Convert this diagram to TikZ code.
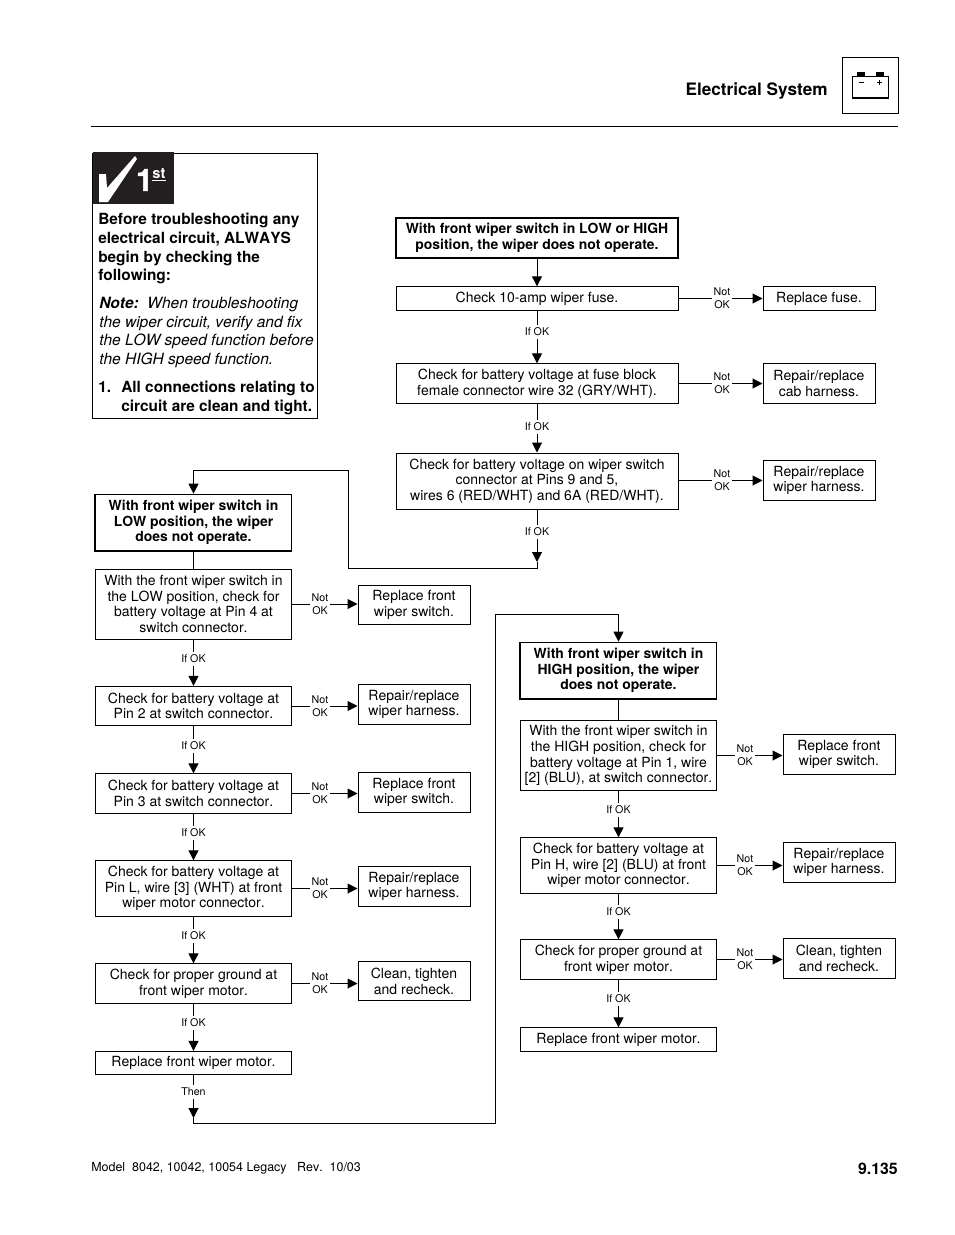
\documentclass[tikz,border=0pt]{standalone}
\usepackage{fontspec}
\setmainfont[Kerning=Off]{TeX Gyre Heros}
\newfontfamily\heavyfont[FakeBold=1.6]{TeX Gyre Heros Bold}
\usetikzlibrary{arrows.meta}
\definecolor{inkdark}{HTML}{231F20}
\tikzset{
    x=0.75pt, y=-0.75pt,
    boxbase/.style={draw, line width=0.75pt, align=center, inner sep=0pt, font=\fontsize{10.5}{11.8}\selectfont},
    chk/.style={boxbase, minimum width=211.5pt},
    lowchk/.style={boxbase, minimum width=147pt},
    fix/.style={boxbase, minimum width=84pt},
    titlebox/.style={boxbase, font=\fontsize{10.45}{11.8}\selectfont\bfseries},
    tag/.style={fill=white, inner xsep=1.5pt, inner ysep=2.2pt, align=center, font=\fontsize{8}{9.5}\selectfont},
    flow/.style={line width=0.75pt, -{Triangle[width=7.5pt,length=7.5pt]}},
    lead/.style={line width=0.75pt},
    panel/.style={anchor=north west, inner sep=0pt, align=left, font=\fontsize{11.55}{14}\selectfont\bfseries},
}
\begin{document}
\begin{tikzpicture}
\useasboundingbox (0,0) rectangle (954,1235);
% header
\node[anchor=east, inner sep=0pt, font=\fontsize{12.87}{14}\selectfont\bfseries] (head) at (828,90.5) {Electrical System};
\node[draw, line width=0.75pt, minimum width=42pt, minimum height=42pt, inner sep=0pt] (icon) at (870,85) {};
\draw[line width=0.75pt] (852,98) rectangle (888,76);
\draw[line width=1.3pt] (852,98) -- (888,98);
\fill (857,72) rectangle (865,76);
\fill (876,72) rectangle (884,76);
\draw[line width=0.6pt] (858.5,82.5) -- (863.5,82.5);
\draw[line width=0.6pt] (876.5,82.5) -- (881.5,82.5) (879,80) -- (879,85);
\draw[line width=0.75pt] (91,126.5) -- (898,126.5);
% check first panel
\draw[line width=0.75pt] (92.5,153.5) rectangle (317.5,418.5);
\fill[inkdark] (92.5,152) rectangle (174,204);
\fill[white] (99,174) -- (106,174) -- (107,188) -- (135,156) -- (137,159) -- (108,202) -- (99,202) -- cycle;
\node[white, inner sep=0pt, font=\fontsize{23}{23}\heavyfont] (one) at (144.5,180) {1};
\node[white, inner sep=0pt, font=\fontsize{11}{11}\selectfont\bfseries] (st) at (159,174) {st};
\draw[white, line width=0.75pt] (152,180.5) -- (166,180.5);
\node[panel] (before) at (98,213) {Before troubleshooting any\\electrical circuit, ALWAYS\\begin by checking the\\following:};
\node[panel, font=\fontsize{11.62}{14}\selectfont\itshape] (note) at (99,297) {{\bfseries Note:}\ \ When troubleshooting\\the wiper circuit, verify and fix\\the LOW speed function before\\the HIGH speed function.};
\node[panel] (itemno) at (98,381) {1.};
\node[panel] (item) at (121,381) {All connections relating to\\circuit are clean and tight.};
% top chart
\node[titlebox, line width=2.2pt, minimum width=211.5pt, minimum height=30pt] (top) at (537,238) {With front wiper switch in LOW or HIGH\\position, the wiper does not operate.};
\node[chk, minimum height=17.5pt] (fuse) at (537,298.5) {Check 10-amp wiper fuse.};
\node[chk, minimum height=29.5pt] (block) at (537,383.5) {Check for battery voltage at fuse block\\female connector wire 32 (GRY/WHT).};
\node[chk, minimum height=42pt] (conn) at (537,481) {Check for battery voltage on wiper switch\\connector at Pins 9 and 5,\\wires 6 (RED/WHT) and 6A (RED/WHT).};
\node[fix, minimum height=17.5pt] (fuserep) at (819,298.5) {Replace fuse.};
\node[fix, minimum height=29.5pt] (cabrep) at (819,383.5) {Repair/replace\\cab harness.};
\node[fix, minimum height=29.5pt] (wirerep) at (819,480.5) {Repair/replace\\wiper harness.};
% low chart
\node[titlebox, minimum width=147pt, minimum height=42.5pt] (low) at (193.5,522.5) {With front wiper switch in\\LOW position, the wiper\\does not operate.};
\node[lowchk, minimum height=52.5pt] (lowa) at (193.5,604) {With the front wiper switch in\\the LOW position, check for\\battery voltage at Pin 4 at\\switch connector.};
\node[lowchk, minimum height=29.5pt] (lowb) at (193.5,706) {Check for battery voltage at\\Pin 2 at switch connector.};
\node[lowchk, minimum height=29.5pt] (lowc) at (193.5,793.5) {Check for battery voltage at\\Pin 3 at switch connector.};
\node[lowchk, minimum height=41.5pt] (lowd) at (193.5,888.5) {Check for battery voltage at\\Pin L, wire [3] (WHT) at front\\wiper motor connector.};
\node[lowchk, minimum height=29.5pt] (lowe) at (193.5,983.5) {Check for proper ground at\\front wiper motor.};
\node[lowchk, minimum height=17.5pt] (lowf) at (193.5,1063) {Replace front wiper motor.};
\node[fix, minimum height=29pt] (lowra) at (414,605) {Replace front\\wiper switch.};
\node[fix, minimum height=29.5pt] (lowrb) at (414,704.5) {Repair/replace\\wiper harness.};
\node[fix, minimum height=29.5pt] (lowrc) at (414,792.5) {Replace front\\wiper switch.};
\node[fix, minimum height=30pt] (lowrd) at (414,886.5) {Repair/replace\\wiper harness.};
\node[fix, minimum height=29.5pt] (lowre) at (414,981) {Clean, tighten\\and recheck.};
% high chart
\node[titlebox, minimum width=147pt, minimum height=42.5pt] (high) at (618.5,670.5) {With front wiper switch in\\HIGH position, the wiper\\does not operate.};
\node[lowchk, minimum height=53pt] (higha) at (618.5,755.5) {With the front wiper switch in\\the HIGH position, check for\\battery voltage at Pin 1, wire\\{[}2] (BLU), at switch connector.};
\node[lowchk, minimum height=41.5pt] (highb) at (618.5,865.5) {Check for battery voltage at\\Pin H, wire [2] (BLU) at front\\wiper motor connector.};
\node[lowchk, minimum height=29.5pt] (highc) at (618.5,959.5) {Check for proper ground at\\front wiper motor.};
\node[lowchk, minimum height=17.5pt] (highd) at (618.5,1039.5) {Replace front wiper motor.};
\node[fix, minimum height=29.5pt] (highra) at (839,754.5) {Replace front\\wiper switch.};
\node[fix, minimum height=29.5pt] (highrb) at (839,862.5) {Repair/replace\\wiper harness.};
\node[fix, minimum height=29.5pt] (highrc) at (839,958.5) {Clean, tighten\\and recheck.};
% heavier left and bottom edges of the two title boxes
\foreach \t in {low,high} {
    \draw[line width=1.4pt] (\t.north west) -- (\t.south west) -- (\t.south east);
}
% down arrows
\draw[flow] (top) -- (fuse);
\foreach \from/\to/\taby in {fuse/block/332, block/conn/427, lowa/lowb/659, lowb/lowc/746, lowc/lowd/833, lowd/lowe/936, lowe/lowf/1023, higha/highb/810, highb/highc/912, highc/highd/999} {
    \draw[flow] (\from) -- (\to);
    \node[tag] (ok\from) at (\from |- 0,\taby) {If OK};
}
\draw[lead] (low) -- (lowa);
\draw[lead] (high) -- (higha);
% side arrows
\foreach \from/\to/\tabx in {lowa/lowra/320, lowb/lowrb/320, lowc/lowrc/320, lowd/lowrd/320, lowe/lowre/320, higha/highra/745, highb/highrb/745, highc/highrc/745, fuse/fuserep/722, block/cabrep/722} {
    \draw[flow] (\from) -- (\from -| \to.west);
    \node[tag, inner ysep=0pt] (no\from) at (\tabx,0 |- \from) {Not\\OK};
}
\draw[flow] (conn.east |- wirerep) -- (wirerep);
\node[tag, inner ysep=0pt] (noconn) at (722,0 |- wirerep) {Not\\OK};
% long returns
\coordinate (tipa) at (537,562);
\coordinate (jointa) at (537,568);
\coordinate (jointb) at (348,568);
\coordinate (jointc) at (348,470);
\coordinate (jointd) at (193.5,470);
\draw[flow] (conn) -- (tipa);
\node[tag] (okconn) at (conn |- 0,532) {If OK};
\draw[lead] (tipa) -- (jointa) -- (jointb) -- (jointc) -- (jointd);
\draw[flow] (jointd) -- (low);
\coordinate (tipb) at (193.5,1118);
\coordinate (thena) at (193.5,1123);
\coordinate (thenb) at (495.5,1123);
\coordinate (thenc) at (495.5,614);
\coordinate (thend) at (618.5,614);
\draw[flow] (lowf) -- (tipb);
\node[tag] (then) at (lowf |- 0,1092) {Then};
\draw[lead] (tipb) -- (thena) -- (thenb) -- (thenc) -- (thend);
\draw[flow] (thend) -- (high);
% footer
\node[anchor=west, inner sep=0pt, font=\fontsize{9.35}{11}\selectfont] (model) at (91,1168.5) {Model\ \ 8042, 10042, 10054 Legacy\ \ \ Rev.\ \ 10/03};
\node[anchor=east, inner sep=0pt, font=\fontsize{11.9}{13}\selectfont\bfseries] (page) at (898,1168.5) {9.135};
\end{tikzpicture}
\end{document}
